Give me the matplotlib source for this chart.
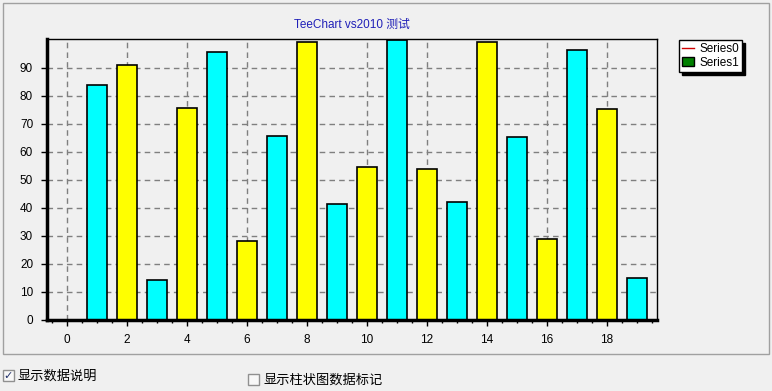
import matplotlib
matplotlib.use("Agg")
import matplotlib.pyplot as plt
from matplotlib.lines import Line2D
from matplotlib.patches import Patch, Rectangle
from matplotlib.ticker import MultipleLocator

plt.rcParams['font.family'] = ['Liberation Sans', 'Noto Sans CJK SC', 'DejaVu Sans']

# Data
x_index = list(range(20))
values = [0, 84, 91, 14.2, 75.8, 95.8, 28.2, 65.8, 99.2, 41.3,
          54.5, 100, 53.8, 42, 99.2, 65.2, 28.9, 96.2, 75.3, 14.9]
bar_colors = ['#ffff00' if i % 2 == 0 else '#00ffff' for i in x_index]
y_ticks = [0, 10, 20, 30, 40, 50, 60, 70, 80, 90]
x_ticks = [0, 2, 4, 6, 8, 10, 12, 14, 16, 18]
legend_labels = ['Series0', 'Series1']
title = 'TeeChart vs2010 测试'
check1 = '显示数据说明'
check2 = '显示柱状图数据标记'

W, H = 772, 391
bg = '#f0f0f0'
fig = plt.figure(figsize=(W / 100, H / 100), dpi=100, facecolor=bg)

def fx(px):
    return px / W

def fy(py):
    return 1 - py / H

# outer panel border
fig.patches.append(Rectangle((fx(3), fy(354)), fx(769) - fx(3), fy(3) - fy(354),
                             transform=fig.transFigure, fill=False,
                             edgecolor='#a0a0a0', linewidth=1))

L, R, T, B = 47, 657, 39, 320
ax = fig.add_axes([fx(L), fy(B), fx(R) - fx(L), fy(T) - fy(B)])
ax.set_facecolor(bg)

ax.bar(x_index, values, width=0.667, color=bar_colors, edgecolor='black',
       linewidth=1.2, zorder=3)

ax.set_xlim(-0.667, 19.667)
ax.set_ylim(0, 100.3)
ax.set_xticks(x_ticks)
ax.set_xticklabels([str(t) for t in x_ticks])
ax.xaxis.set_minor_locator(MultipleLocator(0.5))
ax.set_yticks(y_ticks)
ax.set_yticklabels([str(t) for t in y_ticks])

ax.grid(True, which='major', color='#7f7f7f', linestyle=(0, (4, 3)), linewidth=1, zorder=0)
ax.set_axisbelow(True)

ax.tick_params(axis='both', which='major', length=4, width=1, color='black',
               labelsize=8.5, pad=6)
ax.tick_params(axis='x', which='minor', length=2.5, width=1, color='black')
ax.tick_params(axis='y', which='minor', length=0)

for side in ['left', 'bottom']:
    ax.spines[side].set_linewidth(2.5)
for side in ['top', 'right']:
    ax.spines[side].set_linewidth(1)
for s in ax.spines.values():
    s.set_color('black')
    s.set_zorder(5)

fig.text(fx(352), fy(25), title, color='#2020b8', fontsize=8.5,
         ha='center', va='center')

handles = [Line2D([0], [0], color='#d00000', linewidth=1),
           Patch(facecolor='#008000', edgecolor='black', linewidth=1)]
leg = fig.legend(handles, legend_labels, loc='upper left',
                 bbox_to_anchor=(fx(679), fy(40)), fontsize=8.5,
                 frameon=True, fancybox=False, framealpha=1,
                 edgecolor='black', facecolor='white',
                 shadow={'ox': 2.2, 'oy': -2.2, 'color': 'black', 'alpha': 1},
                 handlelength=1.0, handleheight=0.8, handletextpad=0.5,
                 borderpad=0.25, labelspacing=0.15, borderaxespad=0)
leg.get_frame().set_linewidth(1)

# checkboxes
def checkbox(px, py, checked, label):
    size = 11
    fig.patches.append(Rectangle((fx(px), fy(py + size)), fx(size), fy(0) - fy(size),
                                 transform=fig.transFigure, facecolor='#f8f8f8',
                                 edgecolor='#909090', linewidth=1))
    if checked:
        fig.text(fx(px + size / 2), fy(py + size / 2), '✓', color='#20306a',
                 fontsize=8, ha='center', va='center', fontweight='bold',
                 family=['DejaVu Sans'])
    fig.text(fx(px + size + 4), fy(py + size / 2 + 1), label, fontsize=9.5,
             ha='left', va='center', color='black',
             family=['Noto Sans CJK SC', 'DejaVu Sans'])

checkbox(3, 370, True, check1)
checkbox(248, 374, False, check2)

fig.savefig('out.png', dpi=100, facecolor=bg)
